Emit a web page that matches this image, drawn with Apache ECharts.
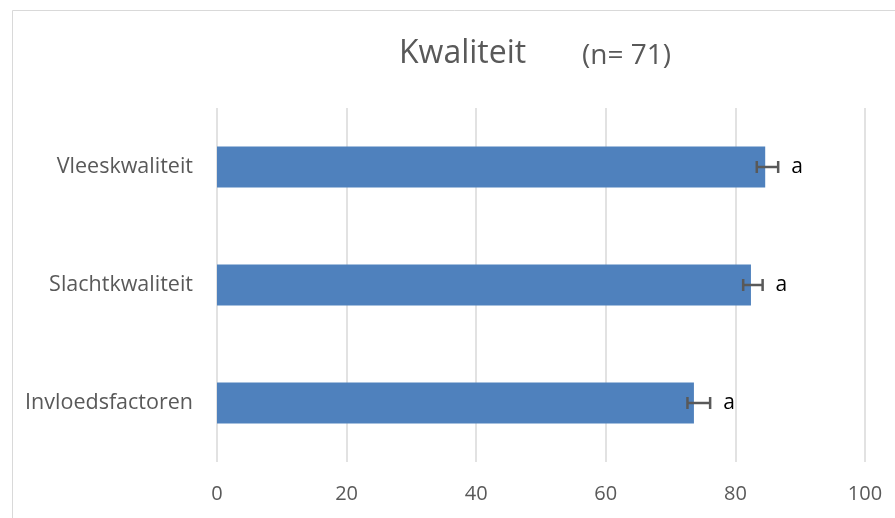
<!DOCTYPE html>
<html><head><meta charset="utf-8">
<script src="https://cdn.jsdelivr.net/npm/echarts@6/dist/echarts.min.js"></script>
<style>html,body{margin:0;padding:0;background:#fff}#c{width:895px;height:518px}</style>
</head><body><div id="c"></div>
<script>
const categories = ['Vleeskwaliteit', 'Slachtkwaliteit', 'Invloedsfactoren'];
const means = [84.6, 82.4, 73.6];
const errLow = [83.3, 81.2, 72.6];
const errHigh = [86.6, 84.2, 76.1];
const sigLetters = ['a', 'a', 'a'];
const titleMain = 'Kwaliteit';
const titleSub = '(n= 71)';

const FONT = '"Open Sans", sans-serif';
const chart = echarts.init(document.getElementById('c'), null, {renderer: 'canvas'});
const errData = categories.map((c, i) => [i, errLow[i], errHigh[i], sigLetters[i]]);

chart.setOption({
  animation: false,
  backgroundColor: '#fff',
  title: [
    {text: titleMain, left: 394, top: 33, textStyle: {fontFamily: FONT, fontSize: 32, fontWeight: 'normal', color: '#595959'}},
    {text: titleSub, left: 577, top: 37, textStyle: {fontFamily: FONT, fontSize: 28, fontWeight: 'normal', color: '#595959'}}
  ],
  graphic: [{type: 'rect', shape: {x: 12.5, y: 10.5, width: 1000, height: 1000}, style: {fill: 'none', stroke: '#d9d9d9', lineWidth: 1}, silent: true, z: -1}],
  grid: {left: 217, right: 30, top: 108, bottom: 56},
  xAxis: {
    type: 'value', min: 0, max: 100, interval: 20,
    axisLine: {show: false}, axisTick: {show: false},
    splitLine: {show: true, lineStyle: {color: '#d9d9d9', width: 1.5}},
    axisLabel: {fontFamily: FONT, fontSize: 20, color: '#595959', margin: 22}
  },
  yAxis: {
    type: 'category', data: categories, inverse: true,
    axisLine: {show: false}, axisTick: {show: false},
    axisLabel: {fontFamily: FONT, fontSize: 21.5, color: '#595959', margin: 24}
  },
  series: [
    {type: 'bar', data: means, barWidth: 41, itemStyle: {color: '#4f81bd'}},
    {
      type: 'custom', data: errData, z: 10,
      encode: {x: [1, 2], y: 0},
      renderItem: function (params, api) {
        const ci = api.value(0);
        const lo = api.coord([api.value(1), ci]);
        const hi = api.coord([api.value(2), ci]);
        const y = lo[1], h = 6;
        const st = {stroke: '#595959', lineWidth: 2.5, fill: 'none'};
        return {type: 'group', children: [
          {type: 'line', shape: {x1: lo[0], y1: y, x2: hi[0], y2: y}, style: st},
          {type: 'line', shape: {x1: lo[0], y1: y - h, x2: lo[0], y2: y + h}, style: st},
          {type: 'line', shape: {x1: hi[0], y1: y - h, x2: hi[0], y2: y + h}, style: st},
          {type: 'text', x: hi[0] + 13, y: y, style: {text: sigLetters[ci], fontFamily: FONT, fontSize: 21, fill: '#000', verticalAlign: 'middle', align: 'left'}}
        ]};
      }
    }
  ]
});
</script></body></html>
